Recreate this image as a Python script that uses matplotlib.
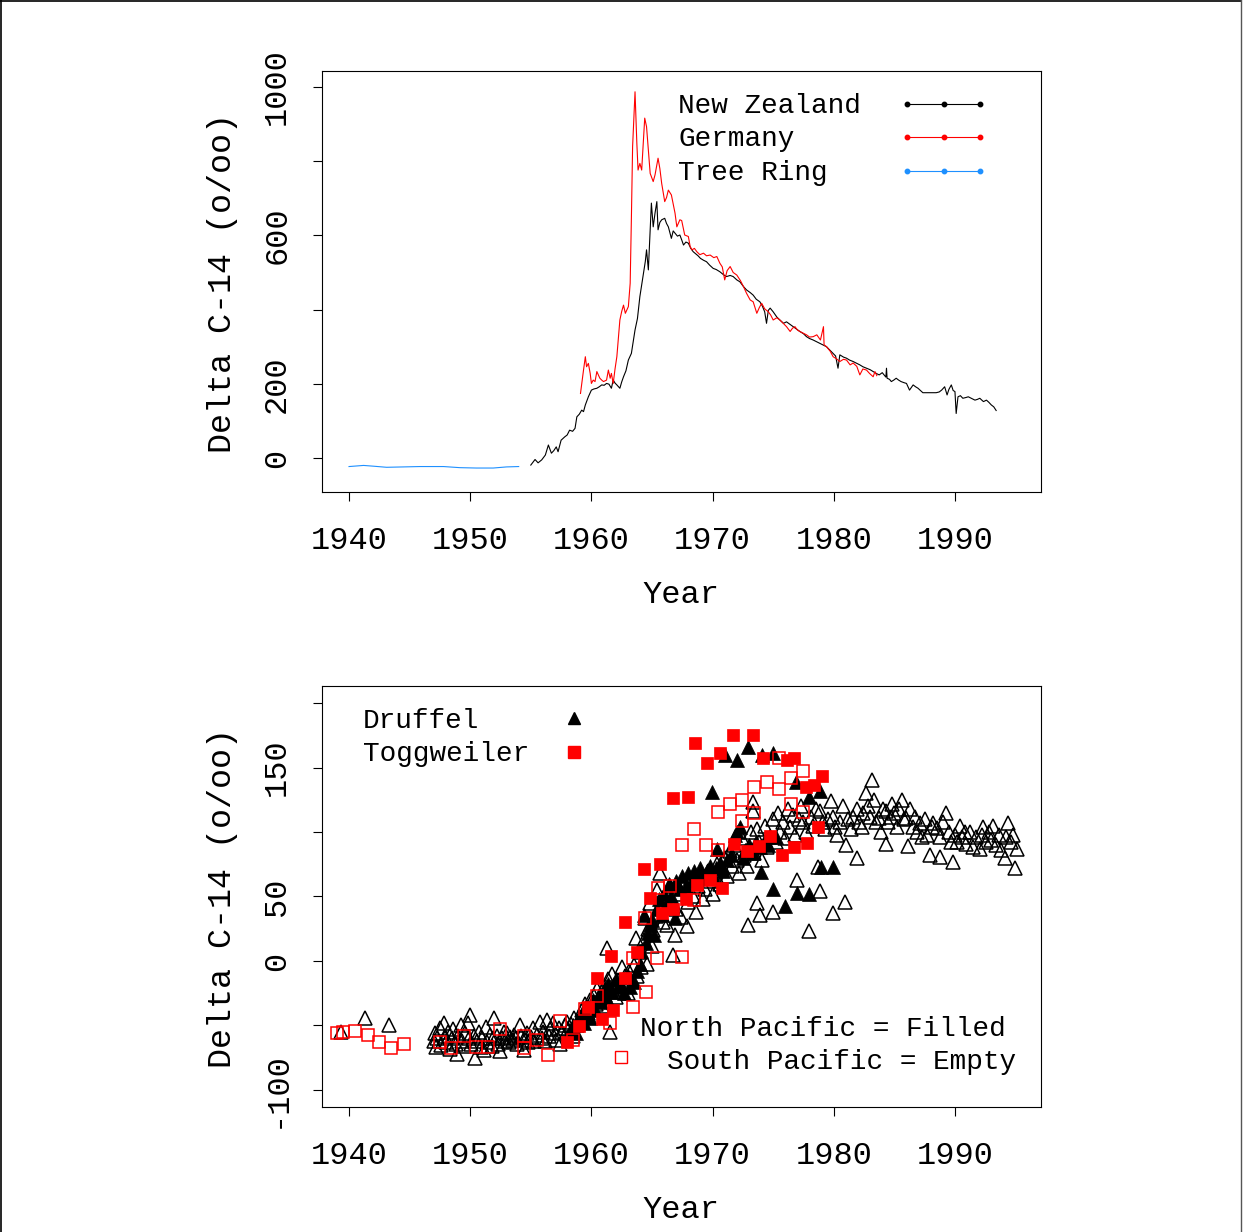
import matplotlib
matplotlib.use("Agg")
import matplotlib.pyplot as plt
from matplotlib.lines import Line2D

plt.rcParams['font.family'] = ['Liberation Mono', 'DejaVu Sans Mono']

# ---------------- Top panel data ----------------
nz_year = [1955.0, 1955.35, 1955.6, 1955.9, 1956.2, 1956.45, 1956.7, 1956.9, 1957.1, 1957.25,
           1957.5, 1957.8, 1958.0, 1958.2, 1958.45, 1958.65, 1958.8, 1959.0, 1959.2, 1959.35,
           1959.5, 1959.75, 1960.0, 1960.2, 1960.45, 1960.65, 1960.85, 1961.05, 1961.25, 1961.45,
           1961.65, 1961.8, 1961.95, 1962.1, 1962.35, 1962.5, 1962.65, 1962.85, 1963.05, 1963.3,
           1963.6, 1963.8, 1964.0, 1964.3, 1964.45, 1964.55, 1964.7, 1964.85, 1964.95, 1965.1,
           1965.25, 1965.4, 1965.5, 1965.65, 1965.8, 1966.05, 1966.2, 1966.35, 1966.6, 1966.75,
           1966.9, 1967.1, 1967.3, 1967.45, 1967.6, 1967.8, 1968.0, 1968.2, 1968.4, 1968.55,
           1968.8, 1969.0, 1969.25, 1969.5, 1969.75, 1970.05, 1970.3, 1970.6, 1970.9, 1971.15,
           1971.45, 1971.7, 1972.0, 1972.25, 1972.55, 1972.8, 1973.1, 1973.35, 1973.6, 1973.9,
           1974.1, 1974.3, 1974.45, 1974.6, 1974.75, 1975.0, 1975.3, 1975.55, 1975.85, 1976.1,
           1976.4, 1976.65, 1976.9, 1977.2, 1977.5, 1977.75, 1978.0, 1978.3, 1978.6, 1978.85,
           1979.1, 1979.4, 1979.7, 1979.95, 1980.15, 1980.35, 1980.5, 1980.8, 1981.05, 1981.3,
           1981.6, 1981.9, 1982.15, 1982.4, 1982.7, 1983.0, 1983.25, 1983.5, 1983.75, 1984.0,
           1984.3, 1984.35, 1984.4, 1984.6, 1984.75, 1984.95, 1985.15, 1985.35, 1985.55, 1985.8,
           1986.0, 1986.25, 1986.55, 1986.75, 1986.95, 1987.15, 1987.35, 1988.45, 1988.7, 1988.9,
           1989.15, 1989.35, 1989.5, 1989.7, 1989.85, 1990.0, 1990.1, 1990.25, 1990.45, 1990.65,
           1990.9, 1991.1, 1991.4, 1991.65, 1991.85, 1992.05, 1992.35, 1992.6, 1992.8, 1993.0,
           1993.2, 1993.4]
nz_value = [-19, -4, -13, -5, 8, 35, 13, 20, 30, 17,
            48, 57, 62, 75, 72, 80, 111, 118, 129, 125,
            143, 165, 183, 186, 188, 192, 197, 196, 201, 199,
            188, 210, 202, 197, 188, 205, 219, 235, 264, 282,
            345, 376, 435, 498, 530, 561, 507, 615, 687, 623,
            660, 691, 615, 635, 642, 646, 632, 623, 592, 612,
            606, 598, 601, 588, 574, 582, 579, 565, 556, 552,
            545, 538, 533, 529, 520, 511, 508, 502, 494, 489,
            492, 489, 480, 475, 462, 453, 446, 439, 428, 421,
            410, 394, 363, 398, 404, 394, 380, 372, 363, 367,
            360, 354, 348, 341, 335, 327, 322, 318, 313, 309,
            305, 300, 290, 282, 275, 242, 278, 272, 269, 264,
            260, 255, 251, 246, 242, 238, 233, 228, 224, 230,
            218, 242, 215, 212, 206, 210, 215, 210, 206, 203,
            201, 183, 197, 192, 188, 182, 176, 176, 178, 183,
            192, 170, 185, 197, 182, 179, 120, 165, 168, 161,
            163, 165, 160, 156, 158, 161, 152, 156, 150, 143,
            138, 128]

de_year = [1959.1, 1959.35, 1959.5, 1959.6, 1959.75, 1959.9, 1960.0, 1960.15, 1960.3, 1960.45,
           1960.6, 1960.7, 1960.85, 1961.0, 1961.25, 1961.4, 1961.55, 1961.65, 1961.8, 1961.95,
           1962.1, 1962.35, 1962.5, 1962.65, 1962.8, 1963.05, 1963.2, 1963.3, 1963.4, 1963.6,
           1963.75, 1963.85, 1964.0, 1964.15, 1964.3, 1964.4, 1964.55, 1964.7, 1964.85, 1965.1,
           1965.25, 1965.5, 1965.65, 1965.8, 1966.05, 1966.2, 1966.35, 1966.6, 1966.9, 1967.05,
           1967.3, 1967.45, 1967.7, 1968.0, 1968.15, 1968.3, 1968.5, 1968.7, 1968.95, 1969.25,
           1969.5, 1969.8, 1970.1, 1970.35, 1970.6, 1970.8, 1971.0, 1971.2, 1971.45, 1971.7,
           1972.0, 1972.3, 1972.55, 1972.8, 1973.1, 1973.35, 1973.65, 1973.85, 1974.05, 1974.3,
           1974.6, 1974.8, 1975.0, 1975.3, 1975.55, 1975.8, 1976.1, 1976.4, 1976.6, 1976.8,
           1977.0, 1977.2, 1977.5, 1977.75, 1978.0, 1978.3, 1978.6, 1978.9, 1979.15, 1979.2,
           1979.4, 1979.7, 1979.95, 1980.2, 1980.5, 1980.8, 1981.05, 1981.35, 1981.6, 1981.9,
           1982.15, 1982.4, 1982.7, 1982.95, 1983.25, 1983.4, 1983.55]
de_value = [174, 237, 273, 246, 255, 228, 201, 210, 206, 233,
            222, 215, 210, 206, 210, 237, 215, 228, 201, 240,
            273, 372, 395, 412, 390, 408, 471, 646, 839, 987,
            848, 776, 794, 776, 860, 916, 893, 830, 767, 745,
            763, 808, 780, 740, 691, 702, 722, 709, 660, 623,
            642, 640, 601, 597, 570, 561, 565, 556, 548, 552,
            545, 547, 540, 543, 525, 515, 480, 505, 516, 500,
            493, 478, 462, 444, 426, 421, 390, 405, 417, 402,
            394, 385, 372, 378, 372, 364, 354, 341, 350, 354,
            345, 341, 336, 332, 326, 327, 332, 318, 354, 305,
            300, 288, 273, 268, 260, 266, 264, 251, 256, 247,
            224, 240, 237, 228, 219, 233, 222]

tree_year = [1940.0, 1941.2, 1942.0, 1943.1, 1944.5, 1945.85, 1947.8, 1949.15, 1950.5, 1951.9, 1953.0, 1954.0]
tree_value = [-23, -20, -22, -25, -24, -23, -23, -26, -27, -27, -24, -23]

top_series = ["New Zealand", "Germany", "Tree Ring"]
top_colors = ["black", "red", "#1E90FF"]

# ---------------- Bottom panel data ----------------
# Druffel, North Pacific (filled triangles)
druf_n_year = [1958.2, 1958.5, 1958.7, 1959.0, 1959.2, 1959.4, 1959.6, 1959.9, 1960.1, 1960.3,
               1960.6, 1960.8, 1961.0, 1961.2, 1961.4, 1961.7, 1962.0, 1962.2, 1962.4, 1962.7,
               1963.0, 1963.2, 1963.5, 1963.8, 1964.0, 1964.1, 1964.3, 1964.5, 1964.7, 1964.8,
               1965.0, 1965.2, 1965.4, 1965.6, 1965.8, 1966.0, 1966.2, 1966.4, 1966.6, 1966.9,
               1967.0, 1967.3, 1967.5, 1967.8, 1968.0, 1968.3, 1968.5, 1968.8, 1969.0, 1969.3,
               1969.5, 1969.8, 1969.98, 1970.0, 1970.3, 1970.4, 1970.6, 1970.9, 1971.0, 1971.2,
               1971.5, 1971.85, 1972.0, 1972.0, 1972.25, 1972.5, 1972.7, 1972.95, 1973.0, 1973.3,
               1973.6, 1973.9, 1974.0, 1974.05, 1974.3, 1974.6, 1974.95, 1974.98, 1975.2, 1975.97,
               1976.88, 1977.0, 1977.95, 1977.95, 1978.9, 1978.95, 1979.95]
druf_n_value = [-55, -50, -56, -45, -40, -48, -36, -44, -30, -38,
                -26, -32, -22, -28, -18, -24, -14, -20, -18, -25,
                -12, -20, -16, -8, -2, 8, 36, 14, 22, 28,
                32, 20, 40, 48, 36, 52, 44, 60, 50, 33,
                62, 56, 66, 58, 68, 62, 70, 64, 72, 66,
                70, 74, 131, 66, 72, 87, 76, 70, 160, 78,
                82, 98, 156, 100, 104, 80, 86, 166, 90, 84,
                92, 88, 69, 160, 94, 90, 56, 161, 96, 43,
                139, 53, 127, 52, 132, 73, 73]

# Druffel, South Pacific (empty triangles)
druf_s_year = [1939.3, 1941.3, 1943.3,
               1947.0, 1947.1, 1947.2, 1947.3, 1947.5, 1947.6, 1947.8, 1947.9, 1948.0, 1948.2,
               1948.3, 1948.5, 1948.6, 1948.8, 1948.9, 1949.0, 1949.2, 1949.3, 1949.5, 1949.6,
               1949.8, 1949.9, 1950.0, 1950.1, 1950.3, 1950.4, 1950.6, 1950.7, 1950.9, 1951.0,
               1951.1, 1951.3, 1951.4, 1951.6, 1951.8, 1951.9, 1952.0, 1952.2, 1952.3, 1952.45,
               1952.6, 1952.8, 1952.9, 1953.0, 1953.2, 1953.3, 1953.5, 1953.6, 1953.8, 1953.9,
               1954.1, 1954.2, 1954.4, 1954.5, 1954.7, 1954.8, 1955.0, 1955.2, 1955.3, 1955.5,
               1955.75, 1955.9, 1956.0, 1956.2, 1956.3, 1956.5, 1956.6, 1956.85, 1957.0, 1957.1,
               1957.3, 1957.4, 1957.6, 1957.8, 1957.95, 1958.1, 1958.3, 1958.5, 1958.6, 1958.8,
               1959.0, 1959.2, 1959.4, 1959.5, 1959.7, 1959.9, 1960.0, 1960.2, 1960.4, 1960.5,
               1960.7, 1960.9, 1961.0, 1961.1, 1961.3, 1961.4, 1961.5, 1961.6, 1961.7, 1961.9,
               1962.0, 1962.2, 1962.3, 1962.5, 1962.6, 1962.8, 1963.0, 1963.1, 1963.3, 1963.5,
               1963.7, 1963.8, 1964.0, 1964.1, 1964.3, 1964.4, 1964.6, 1964.7, 1964.8, 1965.0,
               1965.1, 1965.3, 1965.4, 1965.6, 1965.7, 1965.9, 1966.0, 1966.2, 1966.3, 1966.5,
               1966.7, 1966.9, 1967.0, 1967.2, 1967.4, 1967.6, 1967.85, 1968.0, 1968.2, 1968.4,
               1968.6, 1968.8, 1969.0, 1969.2, 1969.4, 1969.6, 1969.8, 1970.0, 1970.2, 1970.4,
               1970.6, 1970.8, 1971.0, 1971.2, 1971.4, 1971.6, 1971.8, 1972.0, 1972.2, 1972.4,
               1972.6, 1972.8, 1972.95, 1973.0, 1973.2, 1973.3, 1973.3, 1973.4, 1973.65, 1973.65,
               1973.8, 1973.95, 1974.1, 1974.3, 1974.5, 1974.7, 1974.95, 1975.0, 1975.2, 1975.4,
               1975.6, 1975.8, 1976.0, 1976.2, 1976.4, 1976.65, 1976.8, 1976.95, 1977.1, 1977.3,
               1977.5, 1977.7, 1977.95, 1978.1, 1978.3, 1978.5, 1978.7, 1978.85, 1978.9, 1979.1,
               1979.3, 1979.5, 1979.8, 1979.95, 1979.95, 1980.1, 1980.3, 1980.5, 1980.8, 1980.9,
               1981.05, 1981.2, 1981.4, 1981.6, 1981.9, 1981.9, 1982.1, 1982.3, 1982.45, 1982.7,
               1982.85, 1983.0, 1983.13, 1983.3, 1983.5, 1983.7, 1983.9, 1984.1, 1984.35, 1984.35,
               1984.5, 1984.7, 1984.8, 1985.0, 1985.2, 1985.4, 1985.6, 1985.8, 1986.0, 1986.15,
               1986.3, 1986.5, 1986.7, 1986.9, 1987.1, 1987.3, 1987.5, 1987.7, 1987.95, 1988.1,
               1988.2, 1988.5, 1988.75, 1988.8, 1989.0, 1989.3, 1989.5, 1989.7, 1989.85, 1990.0,
               1990.2, 1990.4, 1990.6, 1990.8, 1990.95, 1991.25, 1991.5, 1991.7, 1992.05, 1992.2,
               1992.35, 1992.6, 1992.8, 1993.0, 1993.15, 1993.4, 1993.6, 1993.8, 1994.1, 1994.2,
               1994.4, 1994.6, 1994.8, 1994.95, 1995.1]
druf_s_value = [-55, -44, -50,
                -62, -56, -67, -60, -52, -65, -48, -58, -63, -55,
                -68, -60, -53, -64, -72, -58, -50, -62, -66, -56,
                -48, -60, -42, -64, -58, -75, -62, -55, -67, -60,
                -69, -51, -63, -57, -66, -60, -44, -58, -64, -70,
                -60, -55, -62, -56, -63, -59, -61, -57, -60, -64,
                -50, -58, -69, -61, -56, -63, -59, -52, -62, -57,
                -47, -60, -55, -62, -46, -58, -53, -48, -56, -61,
                -52, -64, -55, -50, -47, -53, -49, -58, -44, -50,
                -45, -38, -42, -33, -40, -30, -36, -27, -33, -22,
                -29, -35, -20, -26, 10, -14, -55, -24, -10, -19,
                -28, -15, -22, -5, -18, -12, -25, -8, -15, -3,
                18, -12, 7, -5, 16, 33, -2, 25, 45, 12,
                24, 35, 55, 42, 68, 30, 48, 28, 45, 58,
                5, 20, 40, 52, 34, 60, 27, 46, 64, 50,
                38, 58, 66, 48, 56, 70, 62, 52, 68, 75,
                60, 72, 80, 66, 85, 74, 90, 78, 68, 95,
                82, 74, 28, 88, 100, 123, 116, 84, 45, 102,
                92, 36, 78, 105, 88, 96, 38, 110, 92, 115,
                100, 108, 95, 118, 104, 113, 98, 63, 110, 120,
                108, 100, 23, 112, 105, 118, 73, 54, 116, 108,
                102, 110, 124, 37, 112, 104, 98, 108, 120, 46,
                90, 110, 102, 112, 118, 80, 108, 104, 115, 130,
                120, 112, 140, 125, 108, 111, 100, 118, 116, 91,
                108, 112, 122, 115, 104, 118, 125, 110, 111, 89,
                118, 104, 112, 100, 107, 96, 110, 98, 82, 104,
                107, 103, 81, 96, 108, 115, 100, 92, 77, 98,
                92, 105, 96, 100, 91, 100, 88, 96, 87, 98,
                104, 92, 100, 94, 105, 90, 98, 86, 80, 96,
                107, 92, 98, 72, 87]

# Toggweiler, North Pacific (filled squares)
togg_n_year = [1958.0, 1959.0, 1959.75, 1960.5, 1960.85, 1961.6, 1961.8, 1962.8, 1962.8, 1963.8,
               1964.35, 1964.8, 1965.7, 1965.8, 1966.75, 1966.75, 1967.8, 1968.0, 1968.55, 1968.75,
               1969.5, 1969.75, 1970.65, 1970.8, 1971.65, 1971.75, 1972.8, 1973.35, 1973.8, 1974.2,
               1974.75, 1975.75, 1976.1, 1976.75, 1976.75, 1977.7, 1977.75, 1978.4, 1978.7, 1979.05]
togg_n_value = [-62.6, -50.2, -35.4, -13.4, -45.2, 4.1, -38.0, 30.6, -13.4, 6.7,
                71.1, 48.6, 75.0, 37.0, 126.1, 40.3, 47.8, 126.9, 168.8, 58.9,
                153.3, 62.8, 161.0, 56.6, 175.2, 90.5, 85.3, 175.2, 88.9, 157.1,
                96.7, 82.2, 155.8, 157.1, 88.4, 135.1, 91.5, 136.2, 104.1, 143.2]

# Toggweiler, South Pacific (empty squares)
togg_s_year = [1939.0, 1939.5, 1940.5, 1941.55, 1942.5, 1943.5, 1944.5, 1947.5, 1948.45, 1949.5,
               1950.5, 1951.5, 1952.45, 1954.45, 1954.45, 1955.5, 1956.45, 1957.45, 1958.45, 1959.5,
               1960.45, 1961.5, 1963.45, 1963.45, 1964.45, 1964.5, 1965.45, 1965.5, 1966.5, 1967.45,
               1967.45, 1968.45, 1968.5, 1969.45, 1970.45, 1970.45, 1971.45, 1972.45, 1972.45, 1973.45,
               1973.45, 1974.45, 1975.5, 1975.5, 1976.45, 1976.45, 1977.45, 1977.45]
togg_s_value = [-56.0, -54.8, -54.0, -57.4, -62.6, -67.7, -64.6, -62.8, -67.4, -58.5,
                -66.3, -66.4, -53.1, -57.8, -67.4, -61.6, -72.5, -46.9, -61.6, -37.6,
                -27.5, -48.3, 2.6, -35.4, 33.7, -24.3, 2.6, 56.4, 57.9, 89.9,
                3.1, 102.2, 47.3, 89.9, 115.7, 86.0, 121.7, 124.8, 108.7, 135.1,
                114.6, 138.4, 133.3, 157.4, 142.2, 121.5, 147.4, 115.7]

x_ticks = [1940, 1950, 1960, 1970, 1980, 1990]
top_yticks = [0, 200, 400, 600, 800, 1000]
top_yticklabels = ["0", "200", "", "600", "", "1000"]
bot_yticks = [-100, -50, 0, 50, 100, 150, 200]
bot_yticklabels = ["-100", "", "0", "50", "", "150", ""]

# ---------------- Figure ----------------
W, H = 1249, 1232
fig = plt.figure(figsize=(W / 100, H / 100), dpi=100)

def fx(px):
    return px / W

def fy(py):
    return 1 - py / H

ax1 = fig.add_axes([fx(322), fy(492), fx(1041) - fx(322), fy(71) - fy(492)])
ax2 = fig.add_axes([fx(322), fy(1107), fx(1041) - fx(322), fy(686) - fy(1107)])

lw = 0.8
ax1.plot(nz_year, nz_value, color=top_colors[0], lw=lw)
ax1.plot(de_year, de_value, color=top_colors[1], lw=lw)
ax1.plot(tree_year, tree_value, color=top_colors[2], lw=lw)
ax1.set_xlim(1937.77, 1997.1)
ax1.set_ylim(-91.6, 1043)

ms_tri = 10
ms_sq = 9
ax2.plot(druf_s_year, druf_s_value, linestyle='none', marker='^', ms=ms_tri,
         mfc='none', mec='black', mew=1.1)
ax2.plot(druf_n_year, druf_n_value, linestyle='none', marker='^', ms=ms_tri,
         mfc='black', mec='black', mew=0.5)
ax2.plot(togg_s_year, togg_s_value, linestyle='none', marker='s', ms=ms_sq,
         mfc='none', mec='red', mew=1.1)
ax2.plot(togg_n_year, togg_n_value, linestyle='none', marker='s', ms=ms_sq,
         mfc='red', mec='red', mew=0.5)
ax2.set_xlim(1937.77, 1997.1)
ax2.set_ylim(-113.2, 213.2)

for ax, yt, ytl in [(ax1, top_yticks, top_yticklabels), (ax2, bot_yticks, bot_yticklabels)]:
    ax.set_xticks(x_ticks)
    ax.set_xticklabels([str(t) for t in x_ticks])
    ax.set_yticks(yt)
    ax.set_yticklabels(ytl, rotation=90, va='center')
    ax.tick_params(axis='both', direction='out', length=6.5, width=0.8,
                   labelsize=23, top=False, right=False)
    ax.tick_params(axis='x', pad=18)
    ax.tick_params(axis='y', pad=15)
    for sp in ax.spines.values():
        sp.set_linewidth(0.8)

# axis titles
for cy in (283, 898):
    fig.text(fx(222), fy(cy), "Delta C-14 (o/oo)", rotation=90, ha='center', va='center', fontsize=24)
for cy in (595, 1210):
    fig.text(fx(681), fy(cy), "Year", ha='center', va='center', fontsize=23)

# top legend
leg_fs = 20
for name, col, ly in zip(top_series, top_colors, [106, 139, 173]):
    yax = (492 - ly) / 421
    ax1.text((678 - 322) / 719, yax, name, transform=ax1.transAxes, ha='left', va='center', fontsize=leg_fs)
for col, ly in zip(top_colors, [104, 137, 171]):
    yax = (492 - ly) / 421
    xs = [(907 - 322) / 719, (943.5 - 322) / 719, (980 - 322) / 719]
    ax1.plot(xs, [yax] * 3, transform=ax1.transAxes, color=col, lw=lw, marker='o', ms=3.2)

# bottom legends
def bpos(px, py):
    return (px - 322) / 719, (1107 - py) / 421

x0, y0 = bpos(363, 721)
ax2.text(x0, y0, "Druffel", transform=ax2.transAxes, ha='left', va='center', fontsize=leg_fs)
mx, my = bpos(574, 718)
ax2.plot([mx], [my], transform=ax2.transAxes, marker='^', ms=8, color='black', linestyle='none')
x0, y0 = bpos(363, 754)
ax2.text(x0, y0, "Toggweiler", transform=ax2.transAxes, ha='left', va='center', fontsize=leg_fs)
mx, my = bpos(574, 752)
ax2.plot([mx], [my], transform=ax2.transAxes, marker='s', ms=8, color='red', linestyle='none')

x0, y0 = bpos(640, 1029)
ax2.text(x0, y0, "North Pacific = Filled", transform=ax2.transAxes, ha='left', va='center', fontsize=leg_fs)
x0, y0 = bpos(667, 1062)
ax2.text(x0, y0, "South Pacific = Empty", transform=ax2.transAxes, ha='left', va='center', fontsize=leg_fs)
mx, my = bpos(621, 1057)
ax2.plot([mx], [my], transform=ax2.transAxes, marker='s', ms=8, mfc='none', mec='red',
         mew=1.0, linestyle='none')

# page frame
fig.add_artist(Line2D([fx(1), fx(1)], [0, 1], color='black', lw=1.2))
fig.add_artist(Line2D([0, fx(1241)], [fy(0.5), fy(0.5)], color='black', lw=1.2))
fig.add_artist(Line2D([fx(1241), fx(1241)], [0, 1], color='#555555', lw=1.0))

fig.savefig("out.png", dpi=100)
